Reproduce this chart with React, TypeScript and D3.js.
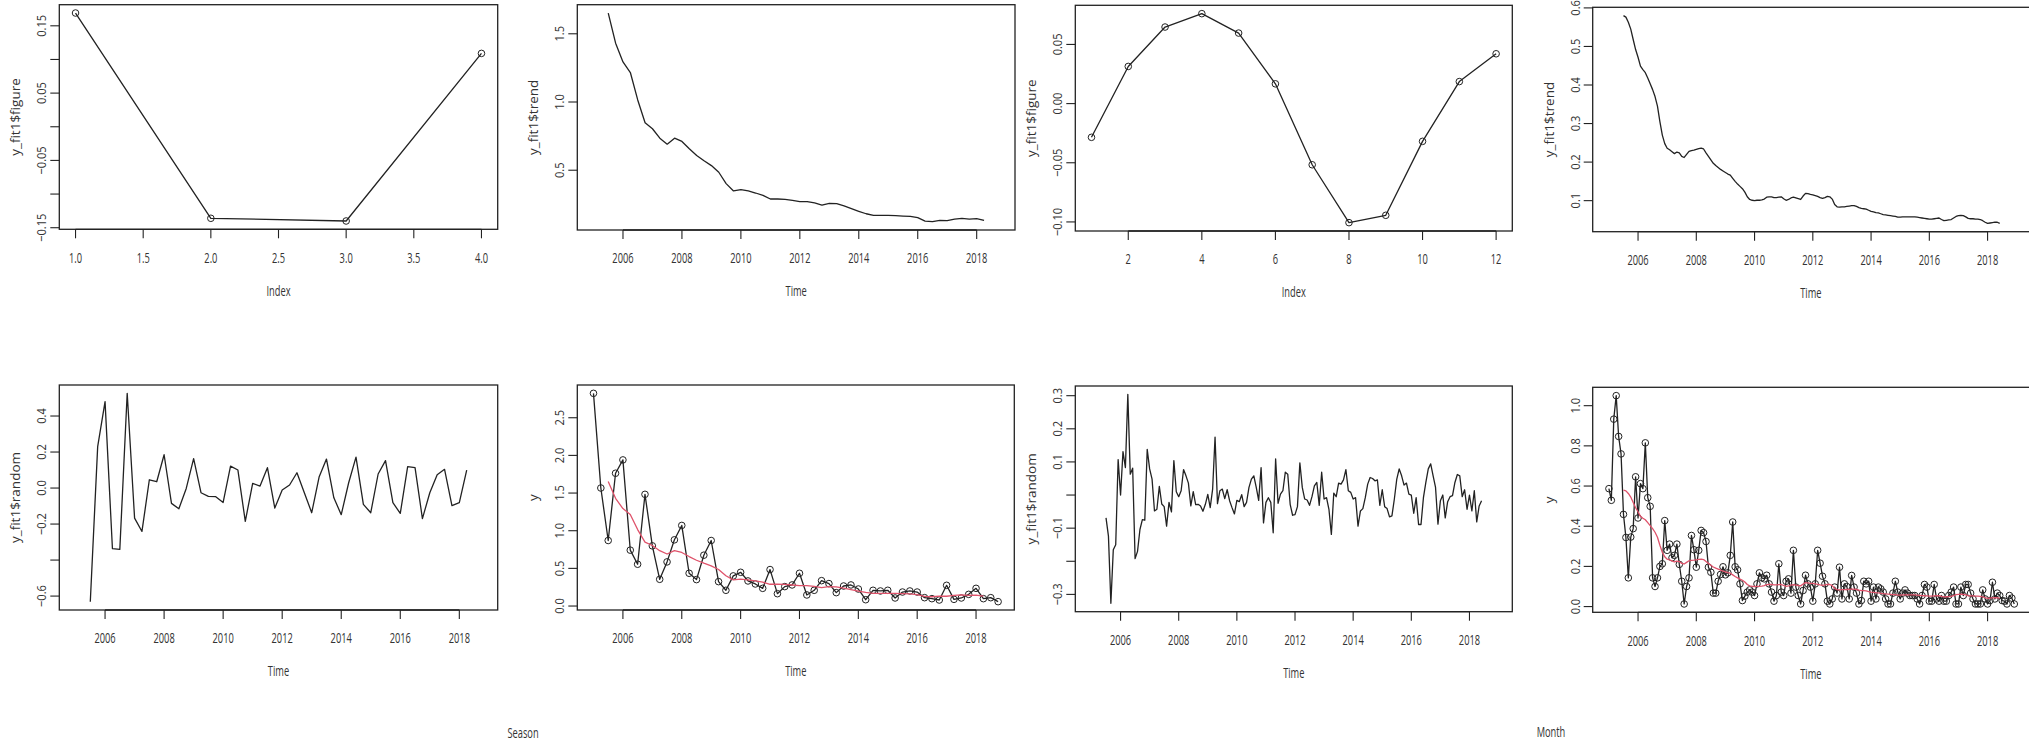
import React from "react";
import * as d3 from "d3";

// ---------- data ----------
const seasonIndex = [1, 2, 3, 4];
const seasonFigure = [0.169, -0.136, -0.14, 0.109];

const monthIndex = [1, 2, 3, 4, 5, 6, 7, 8, 9, 10, 11, 12];
const monthFigure = [-0.0285, 0.0314, 0.0647, 0.076, 0.0596, 0.0167, -0.0517, -0.1006, -0.0944, -0.0319, 0.0186, 0.0421];

// quarterly series, starts 2005 Q1
const quarterlyStart = 2005.0;
const quarterlyY = [
  2.824, 1.567, 0.87, 1.763,
  1.94, 0.742, 0.555, 1.483,
  0.799, 0.355, 0.586, 0.879,
  1.07, 0.435, 0.351, 0.675,
  0.87, 0.324, 0.209, 0.4,
  0.448, 0.333, 0.293, 0.235,
  0.484, 0.164, 0.258, 0.28,
  0.435, 0.147, 0.209, 0.337,
  0.298, 0.178, 0.266, 0.28,
  0.226, 0.084, 0.209, 0.2,
  0.209, 0.107, 0.186, 0.2,
  0.186, 0.111, 0.098, 0.08,
  0.275, 0.089, 0.107, 0.155,
  0.235, 0.098, 0.111, 0.058,
];
// trend / random start 2005 Q3
const quarterlyDecompStart = 2005.5;
const quarterlyTrend = [
  1.652, 1.431,
  1.294, 1.216, 1.015, 0.848,
  0.804, 0.735, 0.691, 0.735,
  0.711, 0.657, 0.608, 0.569,
  0.534, 0.485, 0.402, 0.348,
  0.358, 0.348, 0.333, 0.316,
  0.289, 0.289, 0.287, 0.279,
  0.27, 0.27, 0.26, 0.245,
  0.257, 0.255, 0.238, 0.218,
  0.199, 0.181, 0.169, 0.169,
  0.169, 0.167, 0.164, 0.162,
  0.152, 0.127, 0.123, 0.132,
  0.13, 0.142, 0.147, 0.142,
  0.145, 0.132,
];
const quarterlyRandom = [
  -0.631, 0.23,
  0.48, -0.337, -0.341, 0.526,
  -0.167, -0.241, 0.046, 0.035,
  0.185, -0.085, -0.115, -0.002,
  0.163, -0.026, -0.046, -0.048,
  -0.08, 0.122, 0.1, -0.185,
  0.026, 0.011, 0.113, -0.111,
  -0.011, 0.017, 0.085, -0.026,
  -0.137, 0.061, 0.161, -0.054,
  -0.148, 0.028, 0.172, -0.091,
  -0.137, 0.078, 0.152, -0.081,
  -0.141, 0.119, 0.113, -0.17,
  -0.026, 0.074, 0.104, -0.098,
  -0.081, 0.1,
];

// monthly series, starts Jan 2005
const monthlyStart = 2005.0;
const monthlyY = [
  0.587, 0.529, 0.933, 1.05, 0.847, 0.76, 0.459, 0.344, 0.143, 0.346, 0.388, 0.646,
  0.441, 0.612, 0.587, 0.815, 0.542, 0.499, 0.143, 0.1, 0.143, 0.2, 0.213, 0.428,
  0.28, 0.311, 0.243, 0.255, 0.311, 0.21, 0.126, 0.013, 0.1, 0.143, 0.354, 0.283,
  0.196, 0.28, 0.379, 0.368, 0.324, 0.196, 0.171, 0.067, 0.067, 0.126, 0.16, 0.198,
  0.158, 0.168, 0.255, 0.421, 0.198, 0.183, 0.113, 0.03, 0.052, 0.072, 0.083, 0.072,
  0.055, 0.113, 0.168, 0.143, 0.138, 0.156, 0.113, 0.072, 0.027, 0.055, 0.213, 0.072,
  0.055, 0.126, 0.138, 0.067, 0.28, 0.097, 0.055, 0.013, 0.08, 0.156, 0.113, 0.097,
  0.027, 0.113, 0.28, 0.216, 0.151, 0.113, 0.027, 0.013, 0.038, 0.097, 0.067, 0.196,
  0.038, 0.113, 0.1, 0.038, 0.155, 0.097, 0.067, 0.013, 0.03, 0.126, 0.113, 0.126,
  0.027, 0.097, 0.038, 0.097, 0.088, 0.072, 0.038, 0.013, 0.013, 0.067, 0.126, 0.072,
  0.038, 0.067, 0.083, 0.067, 0.055, 0.055, 0.055, 0.038, 0.013, 0.055, 0.11, 0.097,
  0.027, 0.027, 0.11, 0.038, 0.027, 0.055, 0.027, 0.027, 0.055, 0.072, 0.097, 0.013,
  0.013, 0.097, 0.055, 0.11, 0.11, 0.067, 0.038, 0.013, 0.013, 0.013, 0.083, 0.038,
  0.013, 0.03, 0.121, 0.038, 0.067, 0.055, 0.03, 0.027, 0.013, 0.055, 0.042, 0.013,
];
// monthly trend / random start Jul 2005
const monthlyDecompStart = 2005.5;
const monthlyTrend = [
  0.58, 0.576, 0.563, 0.545, 0.518, 0.492,
  0.472, 0.449, 0.44, 0.432, 0.418, 0.403, 0.388, 0.37, 0.345, 0.305, 0.27, 0.248,
  0.236, 0.232, 0.227, 0.222, 0.226, 0.224, 0.215, 0.212, 0.22, 0.228, 0.23, 0.231,
  0.233, 0.235, 0.236, 0.234, 0.224, 0.215, 0.206, 0.197, 0.191, 0.186, 0.181, 0.177,
  0.173, 0.169, 0.166, 0.158, 0.15, 0.143, 0.137, 0.131, 0.122, 0.11, 0.103, 0.101,
  0.1, 0.101, 0.101, 0.102, 0.104, 0.109, 0.11, 0.11, 0.108, 0.108, 0.109, 0.11,
  0.105, 0.101, 0.103, 0.107, 0.109, 0.107, 0.105, 0.103, 0.112, 0.119, 0.118, 0.116,
  0.115, 0.113, 0.111, 0.108, 0.106, 0.108, 0.111, 0.11, 0.104, 0.09, 0.084, 0.083,
  0.084, 0.084, 0.085, 0.086, 0.087, 0.087, 0.085, 0.082, 0.08, 0.079, 0.078, 0.075,
  0.072, 0.071, 0.069, 0.068, 0.066, 0.064, 0.063, 0.062, 0.061, 0.06, 0.059, 0.057,
  0.057, 0.058, 0.058, 0.058, 0.058, 0.058, 0.058, 0.057, 0.056, 0.055, 0.054, 0.053,
  0.052, 0.052, 0.053, 0.054, 0.055, 0.051, 0.048, 0.049, 0.05, 0.051, 0.055, 0.059,
  0.061, 0.062, 0.061, 0.058, 0.054, 0.053, 0.053, 0.052, 0.052, 0.051, 0.048, 0.044,
  0.041, 0.042, 0.043, 0.044, 0.044, 0.041,
];
const monthlyRandom = [
  -0.069, -0.124, -0.327, -0.165, -0.15, 0.107,
  0.0, 0.131, 0.083, 0.304, 0.063, 0.081, -0.192, -0.17, -0.104, -0.074, -0.076, 0.138,
  0.079, 0.048, -0.048, -0.043, 0.026, -0.027, -0.035, -0.094, -0.022, -0.051, 0.104, 0.01,
  -0.005, 0.013, 0.077, 0.058, 0.036, -0.033, 0.01, -0.029, -0.028, -0.033, -0.049, -0.028,
  0.002, -0.038, 0.018, 0.175, -0.026, 0.013, 0.018, -0.011, 0.016, -0.017, -0.038, -0.057,
  -0.016, -0.02, 0.001, -0.035, -0.022, 0.023, 0.048, 0.058, 0.023, -0.016, 0.083, -0.084,
  -0.022, -0.008, -0.022, -0.114, 0.109, -0.025, 0.003, 0.013, 0.069, 0.063, -0.028, -0.061,
  -0.059, -0.035, 0.097, 0.023, -0.012, -0.015, -0.031, -0.005, 0.028, 0.038, -0.031, 0.069,
  -0.012, -0.008, -0.043, -0.119, 0.006, -0.005, 0.036, 0.033, 0.046, 0.077, 0.013, 0.008,
  -0.012, -0.008, -0.094, -0.048, -0.041, -0.008, 0.033, 0.053, 0.05, 0.043, 0.046, -0.031,
  0.016, -0.035, -0.041, -0.066, -0.063, -0.012, 0.048, 0.079, 0.058, 0.03, 0.036, 0.003,
  0.0, -0.055, -0.008, -0.089, -0.089, -0.008, 0.038, 0.079, 0.094, 0.058, 0.023, -0.088,
  -0.017, 0.0, -0.069, -0.02, -0.005, -0.002, 0.038, 0.062, 0.058, -0.005, 0.016, -0.043,
  0.0, -0.048, 0.013, -0.081, -0.033, -0.017,
];

// ticks
const yearTicks = [2006, 2008, 2010, 2012, 2014, 2016, 2018];
const yearLabels = ["2006", "2008", "2010", "2012", "2014", "2016", "2018"];
const seasonXTicks = [1.0, 1.5, 2.0, 2.5, 3.0, 3.5, 4.0];
const seasonXLabels = ["1.0", "1.5", "2.0", "2.5", "3.0", "3.5", "4.0"];
const seasonYTicks = [-0.15, -0.1, -0.05, 0, 0.05, 0.1, 0.15];
const seasonYLabels = ["\u22120.15", "", "\u22120.05", "", "0.05", "", "0.15"];
const qTrendYTicks = [0.5, 1.0, 1.5];
const qTrendYLabels = ["0.5", "1.0", "1.5"];
const monthXTicks = [2, 4, 6, 8, 10, 12];
const monthXLabels = ["2", "4", "6", "8", "10", "12"];
const monthYTicks = [-0.1, -0.05, 0, 0.05];
const monthYLabels = ["\u22120.10", "\u22120.05", "0.00", "0.05"];
const mTrendYTicks = [0.1, 0.2, 0.3, 0.4, 0.5, 0.6];
const mTrendYLabels = ["0.1", "0.2", "0.3", "0.4", "0.5", "0.6"];
const qRandYTicks = [-0.6, -0.4, -0.2, 0, 0.2, 0.4];
const qRandYLabels = ["\u22120.6", "", "\u22120.2", "0.0", "0.2", "0.4"];
const qYTicks = [0, 0.5, 1.0, 1.5, 2.0, 2.5];
const qYLabels = ["0.0", "0.5", "1.0", "1.5", "2.0", "2.5"];
const mRandYTicks = [-0.3, -0.2, -0.1, 0, 0.1, 0.2, 0.3];
const mRandYLabels = ["\u22120.3", "", "\u22120.1", "", "0.1", "0.2", "0.3"];
const mYTicks = [0, 0.2, 0.4, 0.6, 0.8, 1.0];
const mYLabels = ["0.0", "0.2", "0.4", "0.6", "0.8", "1.0"];

// ---------- helpers ----------
const pad = (lo: number, hi: number): [number, number] => {
  const d = (hi - lo) * 0.04;
  return [lo - d, hi + d];
};
const times = (start: number, freq: number, n: number) =>
  Array.from({ length: n }, (_, i) => start + i / freq);
const ext = (a: number[]) => d3.extent(a) as [number, number];

const FONT = "'Open Sans', 'Noto Sans', sans-serif";
const INK = "#222";
const TXT = "#333";
const RED = "#DF536B";

// horizontal text, condensed like the reference
function HText({ x, y, children, size = 15 }: { x: number; y: number; children: any; size?: number }) {
  return (
    <text
      transform={`translate(${x},${y}) scale(0.62,1)`}
      textAnchor="middle"
      dominantBaseline="central"
      fontSize={size}
      fill={TXT}
      fontFamily={FONT}
    >
      {children}
    </text>
  );
}
// vertical (rotated) text
function VText({ x, y, children, size = 13.5, sx = 1 }: { x: number; y: number; children: any; size?: number; sx?: number }) {
  return (
    <text
      transform={`translate(${x},${y}) rotate(-90) scale(${sx},1)`}
      textAnchor="middle"
      dominantBaseline="central"
      fontSize={size}
      fill={TXT}
      fontFamily={FONT}
    >
      {children}
    </text>
  );
}

type Box = { l: number; r: number; t: number; b: number };
type Series = { xs: number[]; ys: number[]; color: string; points?: boolean };

function Panel(props: {
  box: Box;
  xDomain: [number, number];
  yDomain: [number, number];
  xTicks: number[];
  xLabels: string[];
  yTicks: number[];
  yLabels: string[];
  xTitle: string;
  yTitle: string;
  series: Series[];
}) {
  const { box, xDomain, yDomain, xTicks, xLabels, yTicks, yLabels, xTitle, yTitle, series } = props;
  const x = d3.scaleLinear().domain(xDomain).range([box.l, box.r]);
  const y = d3.scaleLinear().domain(yDomain).range([box.b, box.t]);
  return (
    <g>
      {series.map((s, k) => {
        const path = d3
          .line<number>()
          .x((_, i) => x(s.xs[i]))
          .y((d) => y(d))(s.ys);
        return (
          <g key={k}>
            <path d={path || ""} fill="none" stroke={s.color} strokeWidth={1.3} strokeLinejoin="round" />
            {s.points &&
              s.ys.map((v, i) => (
                <circle key={i} cx={x(s.xs[i])} cy={y(v)} r={3.3} fill="none" stroke={INK} strokeWidth={1} />
              ))}
          </g>
        );
      })}
      <rect x={box.l} y={box.t} width={box.r - box.l} height={box.b - box.t} fill="none" stroke={INK} strokeWidth={1.3} />
      <line x1={x(xTicks[0])} x2={x(xTicks[xTicks.length - 1])} y1={box.b} y2={box.b} stroke={INK} strokeWidth={1.3} />
      {xTicks.map((t, i) => (
        <g key={"xt" + i}>
          <line x1={x(t)} x2={x(t)} y1={box.b} y2={box.b + 9} stroke={INK} strokeWidth={1.1} />
          <HText x={x(t)} y={box.b + 28}>{xLabels[i]}</HText>
        </g>
      ))}
      {yTicks.map((t, i) => (
        <g key={"yt" + i}>
          <line x1={box.l - 9} x2={box.l} y1={y(t)} y2={y(t)} stroke={INK} strokeWidth={1.1} />
          {yLabels[i] !== "" && (
            <VText x={box.l - 18} y={y(t)} sx={0.82}>
              {yLabels[i]}
            </VText>
          )}
        </g>
      ))}
      <HText x={(box.l + Math.min(box.r, 2029)) / 2} y={box.b + 61}>
        {xTitle}
      </HText>
      <VText x={box.l - 44} y={(box.t + box.b) / 2} size={13.5}>
        {yTitle}
      </VText>
    </g>
  );
}

export default function App() {
  const qT = times(quarterlyStart, 4, quarterlyY.length);
  const qDT = times(quarterlyDecompStart, 4, quarterlyTrend.length);
  const mT = times(monthlyStart, 12, monthlyY.length);
  const mDT = times(monthlyDecompStart, 12, monthlyTrend.length);
  const qX = pad(qT[0], qT[qT.length - 1]);
  const mX = pad(mT[0], mT[mT.length - 1]);

  const P1: Box = { l: 59.3, r: 497.7, t: 4.7, b: 229.3 };
  const P2: Box = { l: 577.3, r: 1015, t: 4.7, b: 230 };
  const P3: Box = { l: 1075.3, r: 1512.3, t: 5.3, b: 231 };
  const P4: Box = { l: 1592.7, r: 2030.5, t: 7.3, b: 231.7 };
  const P5: Box = { l: 59.3, r: 497.7, t: 385, b: 610 };
  const P6: Box = { l: 577.3, r: 1014.3, t: 385, b: 610 };
  const P7: Box = { l: 1075.3, r: 1512.3, t: 386, b: 611.7 };
  const P8: Box = { l: 1592.7, r: 2030.5, t: 387.3, b: 612.3 };

  return (
    <svg width={2029} height={742} style={{ position: "absolute", left: 0, top: 0, background: "#fff" }}>
      <rect x={0} y={0} width={2029} height={742} fill="#fff" />
      <Panel
        box={P1}
        xDomain={pad(...ext(seasonIndex))}
        yDomain={pad(...ext(seasonFigure))}
        xTicks={seasonXTicks}
        xLabels={seasonXLabels}
        yTicks={seasonYTicks}
        yLabels={seasonYLabels}
        xTitle="Index"
        yTitle="y_fit1$figure"
        series={[{ xs: seasonIndex, ys: seasonFigure, color: INK, points: true }]}
      />
      <Panel
        box={P2}
        xDomain={qX}
        yDomain={pad(...ext(quarterlyTrend))}
        xTicks={yearTicks}
        xLabels={yearLabels}
        yTicks={qTrendYTicks}
        yLabels={qTrendYLabels}
        xTitle="Time"
        yTitle="y_fit1$trend"
        series={[{ xs: qDT, ys: quarterlyTrend, color: INK }]}
      />
      <Panel
        box={P3}
        xDomain={pad(...ext(monthIndex))}
        yDomain={pad(...ext(monthFigure))}
        xTicks={monthXTicks}
        xLabels={monthXLabels}
        yTicks={monthYTicks}
        yLabels={monthYLabels}
        xTitle="Index"
        yTitle="y_fit1$figure"
        series={[{ xs: monthIndex, ys: monthFigure, color: INK, points: true }]}
      />
      <Panel
        box={P4}
        xDomain={mX}
        yDomain={pad(...ext(monthlyTrend))}
        xTicks={yearTicks}
        xLabels={yearLabels}
        yTicks={mTrendYTicks}
        yLabels={mTrendYLabels}
        xTitle="Time"
        yTitle="y_fit1$trend"
        series={[{ xs: mDT, ys: monthlyTrend, color: INK }]}
      />
      <Panel
        box={P5}
        xDomain={qX}
        yDomain={pad(...ext(quarterlyRandom))}
        xTicks={yearTicks}
        xLabels={yearLabels}
        yTicks={qRandYTicks}
        yLabels={qRandYLabels}
        xTitle="Time"
        yTitle="y_fit1$random"
        series={[{ xs: qDT, ys: quarterlyRandom, color: INK }]}
      />
      <Panel
        box={P6}
        xDomain={qX}
        yDomain={pad(...ext(quarterlyY))}
        xTicks={yearTicks}
        xLabels={yearLabels}
        yTicks={qYTicks}
        yLabels={qYLabels}
        xTitle="Time"
        yTitle="y"
        series={[
          { xs: qT, ys: quarterlyY, color: INK, points: true },
          { xs: qDT, ys: quarterlyTrend, color: RED },
        ]}
      />
      <Panel
        box={P7}
        xDomain={mX}
        yDomain={pad(...ext(monthlyRandom))}
        xTicks={yearTicks}
        xLabels={yearLabels}
        yTicks={mRandYTicks}
        yLabels={mRandYLabels}
        xTitle="Time"
        yTitle="y_fit1$random"
        series={[{ xs: mDT, ys: monthlyRandom, color: INK }]}
      />
      <Panel
        box={P8}
        xDomain={mX}
        yDomain={pad(...ext(monthlyY))}
        xTicks={yearTicks}
        xLabels={yearLabels}
        yTicks={mYTicks}
        yLabels={mYLabels}
        xTitle="Time"
        yTitle="y"
        series={[
          { xs: mT, ys: monthlyY, color: INK, points: true },
          { xs: mDT, ys: monthlyTrend, color: RED },
        ]}
      />
      <HText x={523} y={733}>Season</HText>
      <HText x={1551} y={732}>Month</HText>
    </svg>
  );
}
